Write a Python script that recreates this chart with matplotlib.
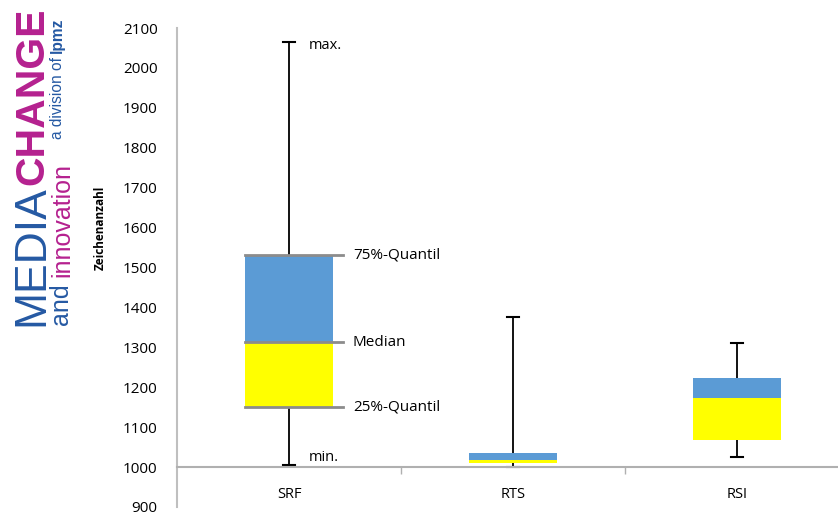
import matplotlib.pyplot as plt
import numpy as np

categories = ['SRF', 'RTS', 'RSI']
minimum = [1005, 1000, 1025]
q1 = [1150, 1010, 1067]
median = [1313, 1017, 1172]
q3 = [1531, 1035, 1223]
maximum = [2065, 1376, 1311]
yticks = list(range(900, 2101, 100))

W, H = 838, 516
fig = plt.figure(figsize=(W / 100, H / 100), dpi=100)
ax = fig.add_axes([177 / W, 9 / H, 672 / W, 479 / H])

x = np.arange(len(categories))
q1 = np.array(q1)
median = np.array(median)
q3 = np.array(q3)
width = 0.395

# whiskers
for i in x:
    ax.plot([i, i], [q3[i], maximum[i]], color='black', lw=1.3, zorder=2)
    ax.plot([i, i], [minimum[i], q1[i]], color='black', lw=1.3, zorder=2)
    for v in (minimum[i], maximum[i]):
        ax.plot([i - 0.025, i + 0.025], [v, v], color='black', lw=1.5, zorder=2)

# box: yellow lower half, blue upper half
ax.bar(x, median - q1, width, bottom=q1, color='#ffff00', zorder=3)
ax.bar(x, q3 - median, width, bottom=median, color='#5b9bd5', zorder=3)

# annotations on the first box
for v, lab in [(q3[0], '75%-Quantil'), (median[0], 'Median'), (q1[0], '25%-Quantil')]:
    ax.plot([-width / 2, 0.24], [v, v], color='#8c8c8c', lw=2, zorder=4)
    ax.text(0.285, v, lab, fontsize=11, va='center', family='Open Sans')
ax.text(0.09, maximum[0] - 8, 'max.', fontsize=10.5, va='center', family='Open Sans')
ax.text(0.09, minimum[0] + 18, 'min.', fontsize=10.5, va='center', family='Open Sans')

ax.set_xlim(-0.5, 2.5)
ax.set_ylim(900, 2100)
ax.set_yticks(yticks)
ax.set_yticklabels([str(t) for t in yticks], fontsize=11, family='Open Sans')
ax.tick_params(axis='y', length=0, pad=14)

ax.spines['top'].set_visible(False)
ax.spines['right'].set_visible(False)
ax.spines['left'].set_color('#bfbfbf')
ax.spines['left'].set_linewidth(1.5)
ax.spines['bottom'].set_position(('data', 1000))
ax.spines['bottom'].set_color('#b0b0b0')
ax.spines['bottom'].set_linewidth(1.5)
ax.set_xticks(x)
ax.set_xticklabels(categories, fontsize=10.5, family='Open Sans')
ax.set_xticks([0.5, 1.5], minor=True)
ax.tick_params(axis='x', which='major', length=0, pad=14)
ax.tick_params(axis='x', which='minor', length=5, color='#b0b0b0', width=1)

fig.text(100 / W, 1 - 228 / H, 'Zeichenanzahl', rotation=90, fontsize=8.5,
         fontweight='bold', family='Open Sans', ha='center', va='center')

# logo: pieces placed one after another, bottom to top
blue = '#2559a3'
mag = '#b5218f'
kw = dict(rotation=90, rotation_mode='anchor', va='baseline', ha='left',
          family='Liberation Sans')
renderer = fig.canvas.get_renderer()


def logo_line(xpx, ypx, parts):
    y = ypx
    for txt, size, color, weight in parts:
        t = fig.text(xpx / W, 1 - y / H, txt, fontsize=size, color=color,
                     fontweight=weight, **kw)
        bb = t.get_window_extent(renderer)
        y = H - bb.y1


logo_line(43, 326, [('MEDIA', 32, blue, 'normal'), ('CHANGE', 29.5, mag, 'bold')])
logo_line(69, 326, [('and ', 18, blue, 'normal'), ('innovation', 18, mag, 'normal')])
logo_line(62, 139, [('a division of ', 11.2, blue, 'normal'), ('lpmz', 11.2, blue, 'bold')])

fig.savefig('out.png', dpi=100)
